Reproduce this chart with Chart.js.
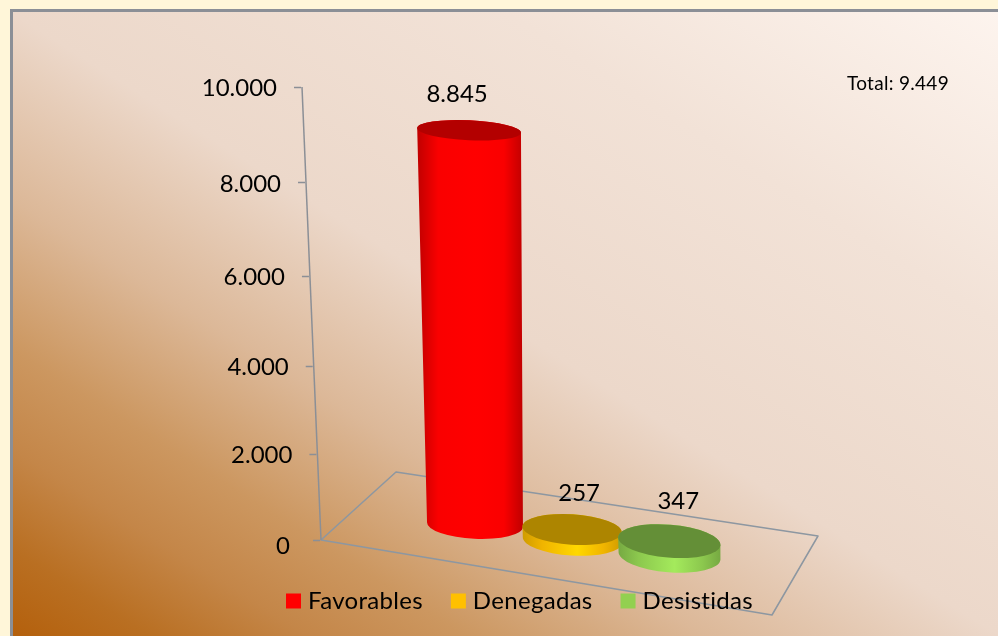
<!DOCTYPE html>
<html>
<head>
<meta charset="utf-8">
<style>html,body{margin:0;padding:0;background:#fff6d9}canvas{display:block}</style>
<script src="https://cdn.jsdelivr.net/npm/chart.js@4"></script>
</head>
<body>
<div style="width:998px;height:636px;position:relative"><canvas id="c"></canvas></div>
<script>
const categories = ['Favorables', 'Denegadas', 'Desistidas'];
const values = [8845, 257, 347];
const yTicks = [0, 2000, 4000, 6000, 8000, 10000];
const totalLabel = 'Total: 9.449';
const baseColors = ['#ff0000', '#ffc000', '#92d050'];
const topColors = ['#b30000', '#ad8500', '#648f37'];
const edgeColors = ['#c00000', '#cf9c00', '#76a942'];
const midColors = ['#fa0000', '#f0b400', '#8cc84e'];
const brightColors = ['#ff0000', '#ffd800', '#a4ea5c'];
const labelNudge = [-12, 7, 9];
const labelLift = [36, 36, 40];
const FONT = 'Lato, Carlito, Calibri, sans-serif';
const fmt = v => String(v).replace(/\B(?=(\d{3})+$)/g, '.');

const PERSP = 0.93, AXIS_SKEW = 19 / 453;
class PerspectiveScale extends Chart.LinearScale {
  static id = 'perspective';
  static defaults = Chart.LinearScale.defaults;
  getPixelForValue(v) {
    const t = (v - this.min) / (this.max - this.min);
    return this.getPixelForDecimal(t * PERSP / (1 + (PERSP - 1) * t));
  }
  getValueForPixel(p) {
    const d = this.getDecimalForPixel(p);
    return this.min + (this.max - this.min) * d / (PERSP + (1 - PERSP) * d);
  }
  skewAt(y) { return -(this.bottom - y) * AXIS_SKEW; }
  _computeLabelItems(area) {
    const items = super._computeLabelItems(area);
    items.forEach(it => {
      const tr = it.options.translation;
      const zero = it.label === '0';
      tr[0] += this.skewAt(tr[1]) + (zero ? -6 : 0);
      tr[1] += zero ? 6 : 1;
    });
    return items;
  }
  _computeGridLineItems(area) {
    const items = super._computeGridLineItems(area);
    items.forEach(it => {
      const s = this.skewAt(it.ty1);
      it.tx1 += s; it.tx2 += s;
    });
    return items;
  }
  drawLabels(area) {
    const c = this.ctx, keep = c.letterSpacing;
    c.letterSpacing = '0px';
    super.drawLabels(area);
    c.letterSpacing = keep;
  }
  drawBorder() {
    const c = this.ctx;
    c.save();
    c.strokeStyle = this.options.border.color;
    c.lineWidth = this.options.border.width;
    c.beginPath();
    c.moveTo(this.right, this.bottom);
    c.lineTo(this.right + this.skewAt(this.top), this.top);
    c.stroke();
    c.restore();
  }
}
Chart.register(PerspectiveScale);

const backdrop = {
  id: 'backdrop',
  beforeUpdate(chart) { chart.ctx.letterSpacing = '0.3px'; },
  beforeDraw(chart) {
    const c = chart.ctx, W = chart.width, H = chart.height;
    c.letterSpacing = '0.3px';
    c.save();
    c.fillStyle = '#fff6d9';
    c.fillRect(0, 0, W, H);
    const g = c.createLinearGradient(223, 769, 785, -123);
    g.addColorStop(0, '#b4600c');
    g.addColorStop(0.07, '#b96f22');
    g.addColorStop(0.15, '#c48648');
    g.addColorStop(0.23, '#cc9760');
    g.addColorStop(0.35, '#dcb898');
    g.addColorStop(0.5, '#ecd8ca');
    g.addColorStop(0.75, '#f2e2d7');
    g.addColorStop(1, '#fdf4ee');
    c.fillStyle = g;
    c.fillRect(10, 9, W - 10, H - 9);
    c.strokeStyle = '#8b8f96';
    c.lineWidth = 3;
    c.beginPath();
    c.moveTo(11.5, H);
    c.lineTo(11.5, 10.5);
    c.lineTo(W, 10.5);
    c.stroke();
    // floor of the 3D plot
    const a = chart.chartArea, x0 = a.left, y0 = a.bottom;
    c.strokeStyle = '#8d97a1';
    c.lineWidth = 1.5;
    c.lineJoin = 'round';
    c.beginPath();
    c.moveTo(x0, y0);
    c.lineTo(x0 + 75, y0 - 68);
    c.lineTo(x0 + 497, y0 - 4);
    c.lineTo(x0 + 451, y0 + 75);
    c.closePath();
    c.stroke();
    c.restore();
  }
};

const cylinders = {
  id: 'cylinders',
  beforeDatasetDraw(chart, args) {
    const c = chart.ctx, y = chart.scales.y, a = chart.chartArea;
    const zero = y.getPixelForValue(0);
    args.meta.data.forEach((el, i) => {
      const bx = el.x;
      const front = zero + (bx - a.left) * 0.166;
      const back = zero - 68 + (bx - a.left - 75) * 0.1517;
      const by = (front + back) / 2;
      const h = (zero - el.y) * 0.993;
      const tx = bx - h * 0.015, ty = by - h;
      const width = el.width / 2;
      const rb = width + (bx - 475) * 0.016, rt = rb + h * 0.01;
      const ryOf = v => 10 + (v - 132) * 0.0102 + (bx - 475) * 0.012;
      const rot = (2.7 + (bx - 475) * 0.01) * Math.PI / 180;
      c.save();
      const g = c.createLinearGradient(Math.min(bx - rb, tx - rt), 0, Math.max(bx + rb, tx + rt), 0);
      g.addColorStop(0, edgeColors[i]);
      g.addColorStop(0.2, midColors[i]);
      g.addColorStop(0.55, brightColors[i]);
      g.addColorStop(0.82, midColors[i]);
      g.addColorStop(1, edgeColors[i]);
      c.fillStyle = g;
      c.beginPath();
      c.ellipse(bx, by, rb, ryOf(by), rot, 0, Math.PI);
      c.ellipse(tx, ty, rt, ryOf(ty), rot, Math.PI, 2 * Math.PI);
      c.closePath();
      c.fill();
      c.fillStyle = topColors[i];
      c.beginPath();
      c.ellipse(tx, ty, rt, ryOf(ty), rot, 0, 2 * Math.PI);
      c.fill();
      c.fillStyle = '#000';
      c.letterSpacing = '0px';
      c.font = '24px ' + FONT;
      c.textAlign = 'center';
      c.textBaseline = 'middle';
      c.fillText(fmt(values[i]), tx + labelNudge[i], ty - labelLift[i]);
      c.restore();
    });
    return false;
  }
};

const totalText = {
  id: 'totalText',
  afterDraw(chart) {
    const c = chart.ctx;
    c.save();
    c.fillStyle = '#000';
    c.letterSpacing = '0.3px';
    c.font = '19px ' + FONT;
    c.textAlign = 'right';
    c.textBaseline = 'middle';
    c.fillText(totalLabel, chart.width - 49, 84);
    c.restore();
  }
};

new Chart(document.getElementById('c'), {
  type: 'bar',
  data: {
    labels: categories,
    datasets: [{
      data: values.map((v, i) => ({ x: i, y: v })),
      backgroundColor: baseColors,
      barThickness: 96
    }]
  },
  options: {
    responsive: true,
    maintainAspectRatio: false,
    animation: false,
    layout: { padding: { top: 87, left: 46, right: 0, bottom: 13 } },
    scales: {
      x: {
        type: 'linear',
        offset: false,
        min: (321 - 475) / 97.25,
        max: (998 - 475) / 97.25,
        grid: { display: false },
        border: { display: false },
        ticks: { display: false },
        afterFit(s) { s.height = 16; }
      },
      y: {
        type: 'perspective',
        min: yTicks[0],
        max: yTicks[yTicks.length - 1],
        afterFit(s) { s.width = 275; },
        border: { display: true, color: '#8b8f96', width: 1.5 },
        grid: { drawOnChartArea: false, drawTicks: true, tickLength: 8, tickColor: '#8b8f96', tickWidth: 1.5 },
        ticks: {
          stepSize: yTicks[1] - yTicks[0],
          padding: 17,
          color: '#000',
          font: { family: FONT, size: 24 },
          callback: v => fmt(v)
        }
      }
    },
    plugins: {
      title: { display: false },
      tooltip: { enabled: false },
      legend: {
        display: true,
        position: 'bottom',
        labels: {
          boxWidth: 5,
          boxHeight: 5,
          padding: 33,
          color: '#000',
          font: { family: FONT, size: 24 },
          generateLabels: () => categories.map((t, i) => ({
            text: t, fillStyle: baseColors[i], strokeStyle: baseColors[i], lineWidth: 10, lineJoin: 'miter', lineCap: 'butt', index: i
          }))
        }
      }
    }
  },
  plugins: [backdrop, cylinders, totalText]
});
</script>
</body>
</html>
